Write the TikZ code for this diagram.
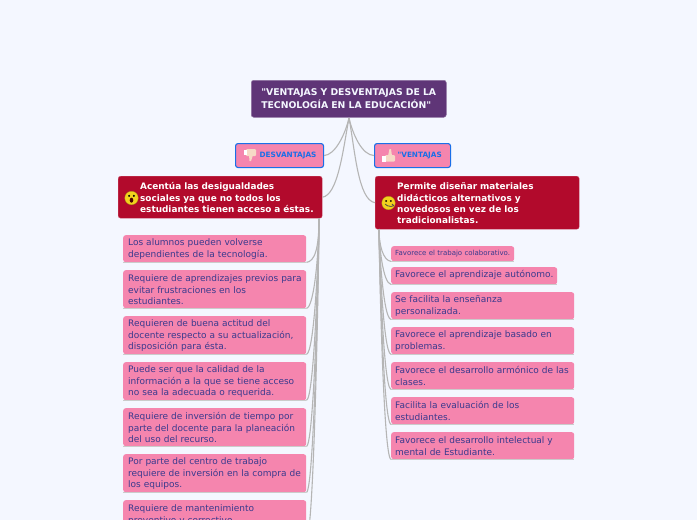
\documentclass[tikz,border=0pt]{standalone}
\usepackage{fontspec}
\usepackage{xcolor}
\setmainfont{DejaVu Sans}[Ligatures=TeXOff]
\usetikzlibrary{arrows.meta,positioning,calc}
\definecolor{mapbg}{HTML}{F4F7FF}
\definecolor{mappurple}{HTML}{5F3577}
\definecolor{mapred}{HTML}{B20A2C}
\definecolor{mappink}{HTML}{F585AE}
\definecolor{mapblue}{HTML}{1A6FE8}
\definecolor{mapink}{HTML}{3A3A8E}
\definecolor{mapline}{HTML}{B5B5B5}
\definecolor{mapskin}{HTML}{F6D9C6}
\definecolor{mapface}{HTML}{F2D21E}
\newcommand{\pad}[2]{\vspace*{1pt}\hyphenpenalty=10000\leftskip=#1\relax #2\par}
\tikzset{
  box/.style={rounded corners=2.5pt,anchor=north west,align=left,inner xsep=0pt,inner ysep=0pt,font=\fontsize{9}{11}\selectfont},
  root/.style={box,fill=mappurple,draw=mappurple!70!white,line width=0.5pt,text=mapbg,text width=195pt,minimum height=37pt,font=\fontsize{9.3}{11.5}\selectfont\bfseries},
  tag/.style={box,fill=mappink,draw=mapblue,line width=1.1pt,text=mapblue,minimum height=24pt,font=\fontsize{7.3}{8}\selectfont\bfseries},
  topic/.style={box,fill=mapred,draw=mapred!70!white,line width=0.4pt,text=white,text width=204pt,font=\fontsize{8.9}{11}\selectfont\bfseries},
  item/.style={box,fill=mappink,text=mapink,text width=183pt},
  link/.style={draw=mapline,line width=1.1pt},
  under/.style={draw=mapline!70,line width=0.8pt},
  face/.style={circle,fill=mapface,draw=mapface!70!black,line width=0.3pt,minimum size=13.5pt,inner sep=0pt},
}
\begin{document}
\begin{tikzpicture}[x=1pt,y=-1pt]
  \fill[mapbg] (0,0) rectangle (697,520);
  \useasboundingbox (0,0) rectangle (697,520);
  % ramas
  \coordinate (salida) at (349,118);
  \node[root] (titulo) at (251,80) {\pad{10pt}{"VENTAJAS Y DESVENTAJAS DE LA\\TECNOLOGÍA EN LA EDUCACIÓN"}};
  \node[tag,text width=88pt] (desv) at (235,143) {\pad{24pt}{DESVANTAJAS}};
  \node[tag,text width=76pt] (vent) at (374,143) {\pad{23pt}{"VENTAJAS}};
  \node[topic,minimum height=42pt] (acentua) at (118,176) {\pad{22pt}{Acentúa las desigualdades\\sociales ya que no todos los\\estudiantes tienen acceso a éstas.}};
  \node[topic,minimum height=53pt] (permite) at (375,176) {\pad{22pt}{Permite diseñar materiales\\didácticos alternativos y\\novedosos en vez de los\\tradicionalistas.}};
  \draw[link] (salida) .. controls (345,135) and (335,155) .. (desv.east);
  \draw[link] (salida) .. controls (353,135) and (362,155) .. (vent.west);
  \draw[link] (salida) .. controls (343,150) and (338,195) .. (acentua.east);
  \draw[link] (salida) .. controls (355,150) and (358,200) .. (permite.west);
  % desventajas
  \coordinate (raizA) at (319,218);
  \foreach \n/\y/\h/\txt in {
    a1/235/27/{Los alumnos pueden volverse\\dependientes de la tecnología.},
    a2/270/38/{Requiere de aprendizajes previos para\\evitar frustraciones en los\\estudiantes.},
    a3/316/38/{Requieren de buena actitud del\\docente respecto a su actualización,\\disposición para ésta.},
    a4/362/38/{Puede ser que la calidad de la\\información a la que se tiene acceso\\no sea la adecuada o requerida.},
    a5/408/38/{Requiere de inversión de tiempo por\\parte del docente para la planeación\\del uso del recurso.},
    a6/454/38/{Por parte del centro de trabajo\\requiere de inversión en la compra de\\los equipos.},
    a7/500/38/{Requiere de mantenimiento\\preventivo y correctivo.\\\mbox{}}}{
    \node[item,minimum height=\h pt] (\n) at (123,\y) {\pad{5pt}{\txt}};
    \draw[under] (\n.south west) -- (\n.south east);
    \draw[link] (raizA) .. controls (319,250) and ($(\n.south east)+(8,-1)$) .. (\n.south east);
  }
  % ventajas
  \coordinate (raizB) at (379,229);
  \node[item,text width=123pt,minimum height=15pt,font=\fontsize{7}{9}\selectfont] (b1) at (391,246) {\pad{4pt}{Favorece el trabajo colaborativo.}};
  \node[item,text width=166pt,minimum height=17pt] (b2) at (391,267) {\pad{4pt}{Favorece el aprendizaje autónomo.}};
  \foreach \n/\y/\txt in {
    b3/292/{Se facilita la enseñanza\\personalizada.},
    b4/327/{Favorece el aprendizaje basado en\\problemas.},
    b5/362/{Favorece el desarrollo armónico de las\\clases.},
    b6/397/{Facilita la evaluación de los\\estudiantes.},
    b7/432/{Favorece el desarrollo intelectual y\\mental de Estudiante.}}{
    \node[item,minimum height=27pt] (\n) at (391,\y) {\pad{4pt}{\txt}};
  }
  \foreach \n in {b1,b2,b3,b4,b5,b6,b7}{
    \draw[under] (\n.south west) -- (\n.south east);
    \draw[link] (raizB) .. controls (379,245) and ($(\n.south west)+(-8,-1)$) .. (\n.south west);
  }
  % caras
  \node[face] (cara1) at (131.5,198) {};
  \fill (cara1.center) ++(-2.4,-2.2) circle (1.1pt) ++(4.8,0) circle (1.1pt);
  \fill[black!70!red] (cara1.center) ++(0,2.2) ellipse (1.8pt and 2.5pt);
  \node[face] (cara2) at (388.5,203) {};
  \fill (cara2.center) ++(-2.3,-2) circle (1pt) ++(4.6,0) circle (1pt);
  \draw[black!70,line width=0.8pt] (cara2.center) ++(-3.4,1) .. controls +(1,3.2) and +(5.8,3.2) .. +(6.8,0);
  % pulgares
  \fill[mapskin,rounded corners=1pt] (246,149) rectangle (256,156);
  \fill[mapskin] (249,155) -- (253,155) -- (251,161) -- (249.5,161) -- cycle;
  \fill[white] (243.5,149.5) rectangle (246.5,155);
  \fill[mapskin,rounded corners=1pt] (385,155) rectangle (395,161.5);
  \fill[mapskin] (388,156) -- (392,156) -- (391,149) -- (389.5,149) -- cycle;
  \fill[white] (382,155.5) rectangle (385.5,161.5);
\end{tikzpicture}
\end{document}
